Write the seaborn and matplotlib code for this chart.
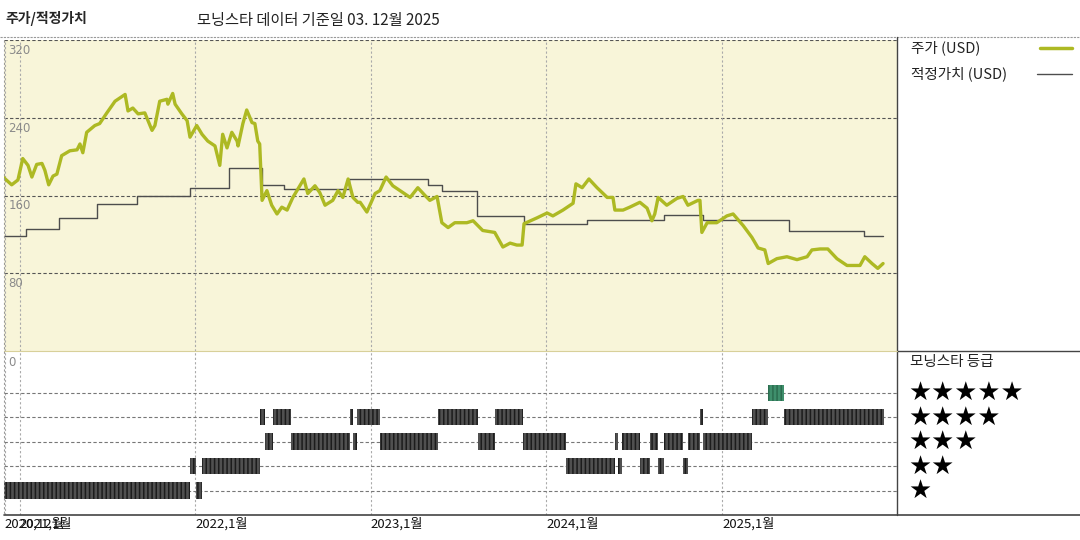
import numpy as np
import pandas as pd
import matplotlib
matplotlib.use("Agg")
import matplotlib.pyplot as plt
import matplotlib.dates as mdates
import matplotlib.transforms as mtransforms
from matplotlib.lines import Line2D
import seaborn as sns

# 주가 (USD) - 그림에서 읽은 값
price_dates = [
    "2020-11-27", "2020-12-15", "2020-12-28", "2021-01-07", "2021-01-18", "2021-01-26",
    "2021-02-05", "2021-02-16", "2021-02-22", "2021-03-02", "2021-03-11", "2021-03-19",
    "2021-03-29", "2021-04-15", "2021-04-30", "2021-05-06", "2021-05-12", "2021-05-20",
    "2021-06-06", "2021-06-16", "2021-07-01", "2021-07-18", "2021-08-08", "2021-08-14",
    "2021-08-24", "2021-09-04", "2021-09-18", "2021-10-03", "2021-10-09", "2021-10-19",
    "2021-11-03", "2021-11-05", "2021-11-15", "2021-11-20", "2021-12-04", "2021-12-15",
    "2021-12-21", "2022-01-04", "2022-01-15", "2022-01-27", "2022-02-11", "2022-02-21",
    "2022-02-27", "2022-03-08", "2022-03-18", "2022-03-29", "2022-03-31", "2022-04-10",
    "2022-04-18", "2022-04-29", "2022-05-05", "2022-05-11", "2022-05-15", "2022-05-20",
    "2022-05-30", "2022-06-09", "2022-06-20", "2022-06-30", "2022-07-11", "2022-07-23",
    "2022-08-03", "2022-08-15", "2022-08-23", "2022-09-07", "2022-09-17", "2022-09-28",
    "2022-10-14", "2022-10-25", "2022-11-04", "2022-11-15", "2022-11-25", "2022-12-05",
    "2022-12-10", "2022-12-24", "2023-01-10", "2023-01-20", "2023-02-02", "2023-02-16",
    "2023-03-09", "2023-03-24", "2023-04-09", "2023-04-24", "2023-05-04", "2023-05-19",
    "2023-05-29", "2023-06-11", "2023-06-25", "2023-07-20", "2023-08-02", "2023-08-22",
    "2023-09-16", "2023-10-03", "2023-10-18", "2023-11-01", "2023-11-12", "2023-11-16",
    "2023-12-13", "2024-01-03", "2024-01-15", "2024-02-05", "2024-02-26", "2024-03-03",
    "2024-03-16", "2024-03-30", "2024-04-16", "2024-05-07", "2024-05-19", "2024-05-23",
    "2024-06-09", "2024-06-23", "2024-07-14", "2024-07-29", "2024-08-08", "2024-08-14",
    "2024-08-21", "2024-09-08", "2024-09-29", "2024-10-12", "2024-10-22", "2024-11-12",
    "2024-11-16", "2024-11-20", "2024-12-01", "2024-12-21", "2025-01-11", "2025-01-24",
    "2025-02-14", "2025-03-04", "2025-03-17", "2025-03-31", "2025-04-07", "2025-04-25",
    "2025-05-16", "2025-06-06", "2025-06-27", "2025-07-07", "2025-07-24", "2025-08-09",
    "2025-08-28", "2025-09-18", "2025-09-30", "2025-10-15", "2025-10-25", "2025-11-09",
    "2025-11-21", "2025-12-02",
]
price_usd = [
    179, 171, 176, 198, 191, 179,
    192, 193, 186, 171, 180, 182,
    201, 206, 207, 213, 204, 225,
    232, 234, 245, 257, 264, 247,
    250, 244, 245, 227, 232, 257,
    259, 254, 265, 254, 244, 237,
    220, 232, 223, 216, 211, 191,
    223, 209, 225, 216, 211, 234,
    248, 235, 234, 216, 213, 155,
    165, 150, 141, 148, 145, 158,
    167, 177, 162, 170, 163, 150,
    155, 165, 158, 177, 158, 153,
    153, 143, 162, 165, 179, 170,
    163, 158, 168, 160, 155, 159,
    132, 127, 132, 132, 134, 124,
    122, 107, 111, 109, 109, 131,
    137, 142, 139, 145, 152, 172,
    168, 177, 168, 158, 158, 145,
    145, 148, 153, 147, 134, 141,
    158, 150, 157, 159, 150, 155,
    155, 122, 132, 132, 139, 141,
    129, 117, 106, 104, 90, 95,
    97, 94, 97, 104, 105, 105,
    95, 88, 88, 88, 97, 90,
    85, 90,
]

# 적정가치 (USD) - 계단형
fair_dates = [
    "2020-11-28", "2021-01-13", "2021-03-23", "2021-06-10", "2021-09-01", "2021-12-21",
    "2022-03-12", "2022-05-20", "2022-07-04", "2022-11-17", "2023-04-30", "2023-05-29",
    "2023-08-10", "2023-11-16", "2024-03-26", "2024-09-02", "2024-11-22", "2025-05-21",
    "2025-10-23", "2025-12-02",
]
fair_usd = [118, 126, 137, 151, 159, 168, 188, 171, 167, 177, 171, 165,
            139, 131, 135, 140, 135, 123, 118, 118]

# 모닝스타 등급 (구간 시작일, 별 개수)
rating_start = [
    "2020-11-28", "2021-12-21", "2022-01-02", "2022-01-14", "2022-05-15", "2022-05-26",
    "2022-06-11", "2022-07-19", "2022-11-19", "2022-11-25", "2022-12-04", "2023-01-21",
    "2023-05-21", "2023-08-12", "2023-09-16", "2023-11-14", "2024-02-11", "2024-05-23",
    "2024-05-30", "2024-06-07", "2024-07-14", "2024-08-04", "2024-08-21", "2024-09-02",
    "2024-10-12", "2024-10-22", "2024-11-16", "2024-11-22", "2025-03-04", "2025-04-06",
    "2025-05-09",
]
rating_stars = [1, 2, 1, 2, 4, 3, 4, 3, 4, 3, 4, 3, 4, 3, 4, 3, 2, 3, 2, 3, 2, 3, 2, 3,
                2, 3, 4, 3, 4, 5, 4]
rating_last = "2025-12-03"

y_ticks = [80, 160, 240, 320]
x_tick_dates = ["2020-12-01", "2021-01-01", "2022-01-01", "2023-01-01", "2024-01-01", "2025-01-01"]
x_tick_labels = ["2020,12월", "2021,1월", "2022,1월", "2023,1월", "2024,1월", "2025,1월"]

sns.set_theme(style="white")
plt.rcParams['font.family'] = ['Noto Sans CJK KR', 'DejaVu Sans']
plt.rcParams['hatch.linewidth'] = 1.1

price = pd.DataFrame({'date': pd.to_datetime(price_dates), 'usd': price_usd})
fair = pd.DataFrame({'date': pd.to_datetime(fair_dates), 'usd': fair_usd})

W, H = 1080, 540
fig = plt.figure(figsize=(10.8, 5.4), dpi=100)
fig.patch.set_facecolor('white')

def fx(px):
    return px / W

def fy(py):
    return 1 - py / H

x0, x1 = 4, 897
ax1 = fig.add_axes([fx(x0), fy(351), fx(x1 - x0), (351 - 40) / H])
ax2 = fig.add_axes([fx(x0), fy(515), fx(x1 - x0), (515 - 351) / H])

xmin = mdates.date2num(pd.Timestamp("2020-11-29"))
xmax = mdates.date2num(pd.Timestamp("2025-12-31"))
green = '#adb923'

# --- 주가 / 적정가치 ---
ax1.set_facecolor('#f8f5d9')
sns.lineplot(data=fair, x='date', y='usd', ax=ax1, color='#4d4d4d', lw=1.0,
             drawstyle='steps-post')
sns.lineplot(data=price, x='date', y='usd', ax=ax1, color=green, lw=2.4)
ax1.set_xlim(xmin, xmax)
ax1.set_ylim(0, 320)
ax1.set_xlabel('')
ax1.set_ylabel('')
ax1.set_xticks([])
ax1.set_yticks([])
for y in y_ticks:
    ax1.axhline(y, color='#555555', lw=0.8, ls=(0, (3, 2)), zorder=0.5)
for d in x_tick_dates:
    ax1.axvline(mdates.date2num(pd.Timestamp(d)), color='#aaaaaa', lw=0.8, ls=(0, (2, 2)), zorder=0.5)
trans = mtransforms.blended_transform_factory(ax1.transAxes, ax1.transData)
for y in y_ticks:
    ax1.text(0.005, y - 4, str(y), transform=trans, va='top', ha='left',
             fontsize=8.5, color='#8a8a8a', family='DejaVu Sans')
for s in ax1.spines.values():
    s.set_visible(False)

# --- 모닝스타 등급 ---
starts = [mdates.date2num(pd.Timestamp(d)) for d in rating_start]
ends = starts[1:] + [mdates.date2num(pd.Timestamp(rating_last))]
for s0, s1, r in zip(starts, ends, rating_stars):
    if r == 5:
        fc, ec = '#3f8f6c', '#2b6d4f'
    else:
        fc, ec = '#505050', '#1c1c1c'
    ax2.broken_barh([(s0, s1 - s0)], (r - 0.33, 0.66), facecolors=fc,
                    edgecolors=ec, hatch='||||', linewidth=0, zorder=3)
for r in range(1, 6):
    ax2.axhline(r, color='#777777', lw=0.8, ls=(0, (3, 2)), zorder=1)
for d in x_tick_dates:
    ax2.axvline(mdates.date2num(pd.Timestamp(d)), color='#aaaaaa', lw=0.8, ls=(0, (2, 2)), zorder=0.5)
ax2.set_xlim(xmin, xmax)
ax2.set_ylim(0, 6.7)
ax2.set_yticks([])
ax2.set_xticks([mdates.date2num(pd.Timestamp(d)) for d in x_tick_dates])
ax2.set_xticklabels(x_tick_labels, ha='left', fontsize=9.5, color='#111111')
ax2.tick_params(axis='x', length=0, pad=2)
ax2.text(0.005, 0.93, "0", transform=ax2.transAxes, fontsize=8.5, color='#8a8a8a',
         va='center', family='DejaVu Sans')
for s in ax2.spines.values():
    s.set_visible(False)

# --- 테두리 / 구분선 ---
fig.add_artist(Line2D([0, 1], [fy(37), fy(37)], color='#999999', lw=0.8, ls=(0, (2, 1))))
fig.add_artist(Line2D([fx(x1), fx(x1)], [fy(37), fy(515)], color='#444444', lw=1.0))
fig.add_artist(Line2D([fx(x1), 1], [fy(351), fy(351)], color='#444444', lw=1.0))
fig.add_artist(Line2D([fx(x0), 1], [fy(515), fy(515)], color='#444444', lw=1.2))
fig.add_artist(Line2D([fx(x0), fx(x1)], [fy(351), fy(351)], color='#d8d09a', lw=0.8))
fig.add_artist(Line2D([fx(x0), fx(x0)], [fy(40), fy(515)], color='#999999', lw=0.8, ls=(0, (2, 2))))

# --- 제목 ---
fig.text(fx(5), fy(19), "주가/적정가치", fontsize=10, fontweight='bold', va='center', ha='left')
fig.text(fx(197), fy(20), "모닝스타 데이터 기준일 03. 12월 2025", fontsize=11, va='center', ha='left',
         color='#222222')

# --- 범례 ---
fig.text(fx(911), fy(48), "주가 (USD)", fontsize=10.5, va='center', ha='left', color='#222222')
fig.add_artist(Line2D([fx(1040), fx(1072)], [fy(48), fy(48)], color=green, lw=2.5))
fig.text(fx(911), fy(74), "적정가치 (USD)", fontsize=10.5, va='center', ha='left', color='#222222')
fig.add_artist(Line2D([fx(1037), fx(1072)], [fy(74), fy(74)], color='#4d4d4d', lw=1.0))

fig.text(fx(910), fy(362), "모닝스타 등급", fontsize=10.5, va='center', ha='left', color='#222222')
for r, py in zip([5, 4, 3, 2, 1], [393, 418, 442, 467, 491]):
    fig.text(fx(908), fy(py), "★" * r, fontsize=18.5, va='center', ha='left',
             color='black', family='DejaVu Sans')

fig.savefig('out.png', dpi=100)
